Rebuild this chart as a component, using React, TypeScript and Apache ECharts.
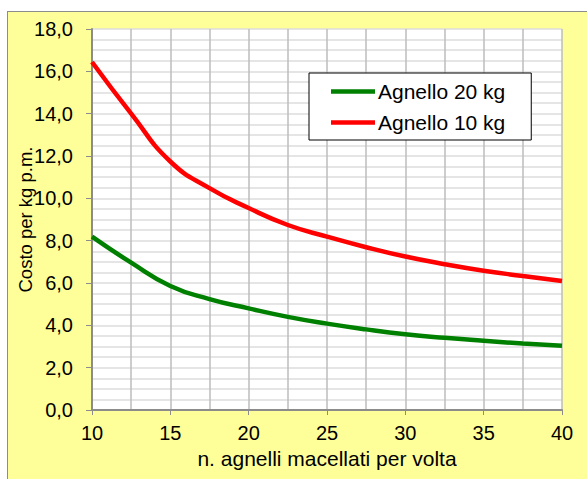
import React, { useEffect, useRef } from "react";
import * as echarts from "echarts";

const xValues = [10, 12.5, 15, 17.5, 20, 22.5, 25, 27.5, 30, 32.5, 35, 37.5, 40];
const agnello20 = [8.19, 6.96, 5.86, 5.24, 4.8, 4.4, 4.08, 3.81, 3.58, 3.41, 3.27, 3.14, 3.03];
const agnello10 = [16.44, 14.0, 11.74, 10.48, 9.54, 8.74, 8.19, 7.69, 7.25, 6.89, 6.58, 6.33, 6.09];
const seriesNames = ["Agnello 20 kg", "Agnello 10 kg"];
const xTitle = "n. agnelli macellati per volta";
const yTitle = "Costo per kg p.m.";

const FONT = "'Liberation Sans', Arial, sans-serif";

export default function App() {
  const ref = useRef<HTMLDivElement>(null);
  useEffect(() => {
    if (!ref.current) return;
    const chart = echarts.init(ref.current, undefined, { renderer: "svg" });
    const pair = (ys: number[]) => xValues.map((x, i) => [x, ys[i]]);
    chart.setOption({
      animation: false,
      textStyle: { fontFamily: FONT },
      grid: {
        left: 92,
        top: 29,
        right: 25,
        bottom: 69,
        containLabel: false,
        outerBoundsMode: "none",
        show: true,
        backgroundColor: "#ffffff",
        borderWidth: 0,
      },
      legend: {
        orient: "vertical",
        left: 309,
        top: 73,
        backgroundColor: "#ffffff",
        borderColor: "#000000",
        borderWidth: 1,
        padding: [8, 26, 7, 22],
        itemWidth: 44,
        itemHeight: 20,
        itemGap: 10,
        textStyle: { fontFamily: FONT, fontSize: 21, color: "#000", padding: [0, 0, 0, -2] },
        icon: "path://M0,0H44V4.5H0Z",
        data: seriesNames,
      },
      xAxis: {
        type: "value",
        min: 10,
        max: 40,
        interval: 5,
        name: xTitle,
        nameLocation: "middle",
        nameGap: 38,
        nameMoveOverlap: false,
        nameTextStyle: { fontFamily: FONT, fontSize: 21, color: "#000" },
        axisLine: { show: true, lineStyle: { color: "#8c8c8c", width: 2 } },
        axisTick: { show: true, length: 5, lineStyle: { color: "#8c8c8c", width: 1 } },
        axisLabel: { fontFamily: FONT, fontSize: 20, color: "#000", margin: 13 },
        splitLine: { show: true, lineStyle: { color: "#bdbdbd", width: 1.5 } },
        minorTick: { show: false, splitNumber: 2 },
        minorSplitLine: { show: true, lineStyle: { color: "#bdbdbd", width: 1.5 } },
      },
      yAxis: {
        type: "value",
        min: 0,
        max: 18,
        interval: 2,
        name: yTitle,
        nameLocation: "middle",
        nameGap: 57,
        nameMoveOverlap: false,
        nameTextStyle: { fontFamily: FONT, fontSize: 18.5, color: "#000" },
        axisLine: { show: true, lineStyle: { color: "#8c8c8c", width: 2 } },
        axisTick: { show: true, length: 6, lineStyle: { color: "#8c8c8c", width: 1 } },
        axisLabel: {
          fontFamily: FONT,
          fontSize: 20,
          color: "#000",
          margin: 19,
          formatter: (v: number) => v.toFixed(1).replace(".", ","),
        },
        splitLine: { show: true, lineStyle: { color: "#dcdcdc", width: 1.5 } },
        minorTick: { show: false, splitNumber: 4 },
        minorSplitLine: { show: true, lineStyle: { color: "#dcdcdc", width: 1.5 } },
      },
      series: [
        {
          name: seriesNames[0],
          type: "line",
          data: pair(agnello20),
          smooth: true,
          showSymbol: false,
          color: "#008000",
          lineStyle: { color: "#008000", width: 4.5 },
          z: 3,
        },
        {
          name: seriesNames[1],
          type: "line",
          data: pair(agnello10),
          smooth: true,
          showSymbol: false,
          color: "#ff0000",
          lineStyle: { color: "#ff0000", width: 4.5 },
          z: 3,
        },
      ],
    });
    return () => chart.dispose();
  }, []);
  return (
    <div style={{ position: "fixed", left: 0, top: 0, width: 587, height: 479, background: "#ffffff", overflow: "hidden" }}>
      <div
        style={{
          position: "absolute",
          left: 7,
          top: 11,
          width: 620,
          height: 520,
          background: "#ffff99",
          border: "1px solid #8c8c8c",
        }}
      />
      <div ref={ref} style={{ position: "absolute", left: 0, top: 0, width: 587, height: 479 }} />
    </div>
  );
}
